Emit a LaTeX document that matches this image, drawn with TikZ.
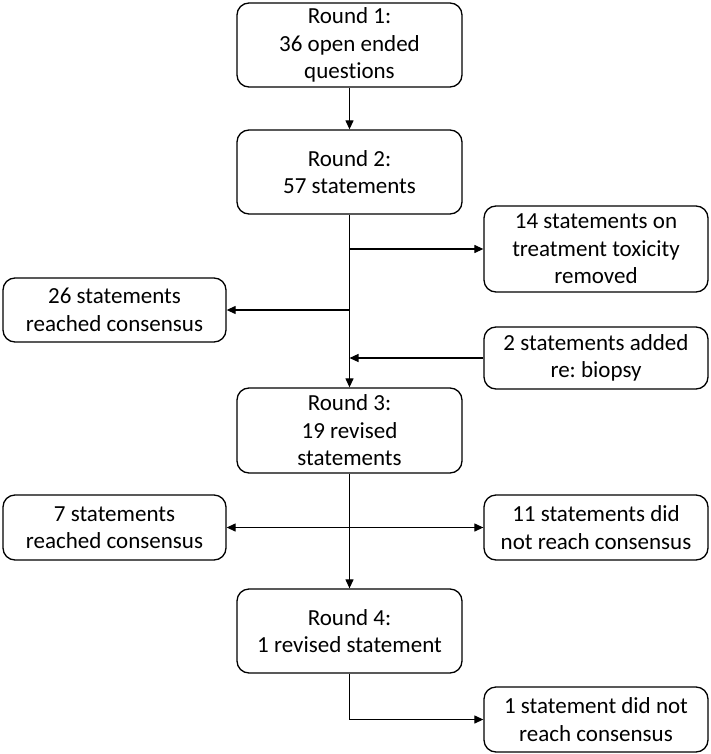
\documentclass[tikz,border=0pt]{standalone}
\usepackage{fontspec}
\setmainfont[Ligatures={NoCommon,NoRare}]{Carlito}
\usetikzlibrary{arrows.meta}
\begin{document}
\frenchspacing
\begin{tikzpicture}[x=1pt,y=1pt,
  box/.style={draw=black, line width=1.3pt, rounded corners=12pt, align=center,
    font=\fontsize{23}{27.5}\selectfont, inner sep=0pt, minimum width=#1},
  box/.default=224pt,
  conn/.style={line width=1.2pt, -{Triangle[length=9pt,width=8pt]}},
  plain/.style={line width=1.2pt}]
\useasboundingbox (0,0) rectangle (710,-754);
\node[box=225pt, minimum height=84pt] (r1) at (349.5,-45) {Round 1:\\36 open ended\\questions};
\node[box=225pt, minimum height=84pt] (r2) at (349.5,-172) {Round 2:\\57 statements};
\node[box, minimum height=86pt] (t14) at (596,-249) {14 statements on\\treatment toxicity\\removed};
\node[box=223pt, minimum height=64pt] (t26) at (114.5,-310) {26 statements\\reached consensus};
\node[box, minimum height=62pt] (t2) at (596,-358) {2 statements added\\re: biopsy};
\node[box=225pt, minimum height=85pt] (r3) at (349.5,-430.5) {Round 3:\\19 revised\\statements};
\node[box=223pt, minimum height=65pt] (t7) at (114.5,-527.5) {7 statements\\reached consensus};
\node[box, minimum height=65pt] (t11) at (596,-527.5) {11 statements did\\not reach consensus};
\node[box=225pt, minimum height=84pt] (r4) at (349.5,-631) {Round 4:\\1 revised statement};
\node[box, minimum height=65pt] (t1) at (596,-719.5) {1 statement did not\\reach consensus};

\coordinate (b14) at (r2.south |- t14.west);
\coordinate (b26) at (r2.south |- t26.east);
\coordinate (b2) at (r2.south |- t2.west);
\coordinate (b3) at (r3.south |- t7.east);
\coordinate (b4) at (r4.south |- t1.west);

\draw[conn] (r1.south) -- (r2.north);
\draw[conn] (r2.south) -- (r3.north);
\draw[conn] (b14) -- (t14.west);
\draw[conn] (b26) -- (t26.east);
\draw[conn] (t2.west) -- (b2);
\draw[conn] (r3.south) -- (r4.north);
\draw[conn] (b3) -- (t7.east);
\draw[conn] (b3) -- (t11.west);
\draw[conn] (r4.south) -- (b4) -- (t1.west);
\end{tikzpicture}
\end{document}
